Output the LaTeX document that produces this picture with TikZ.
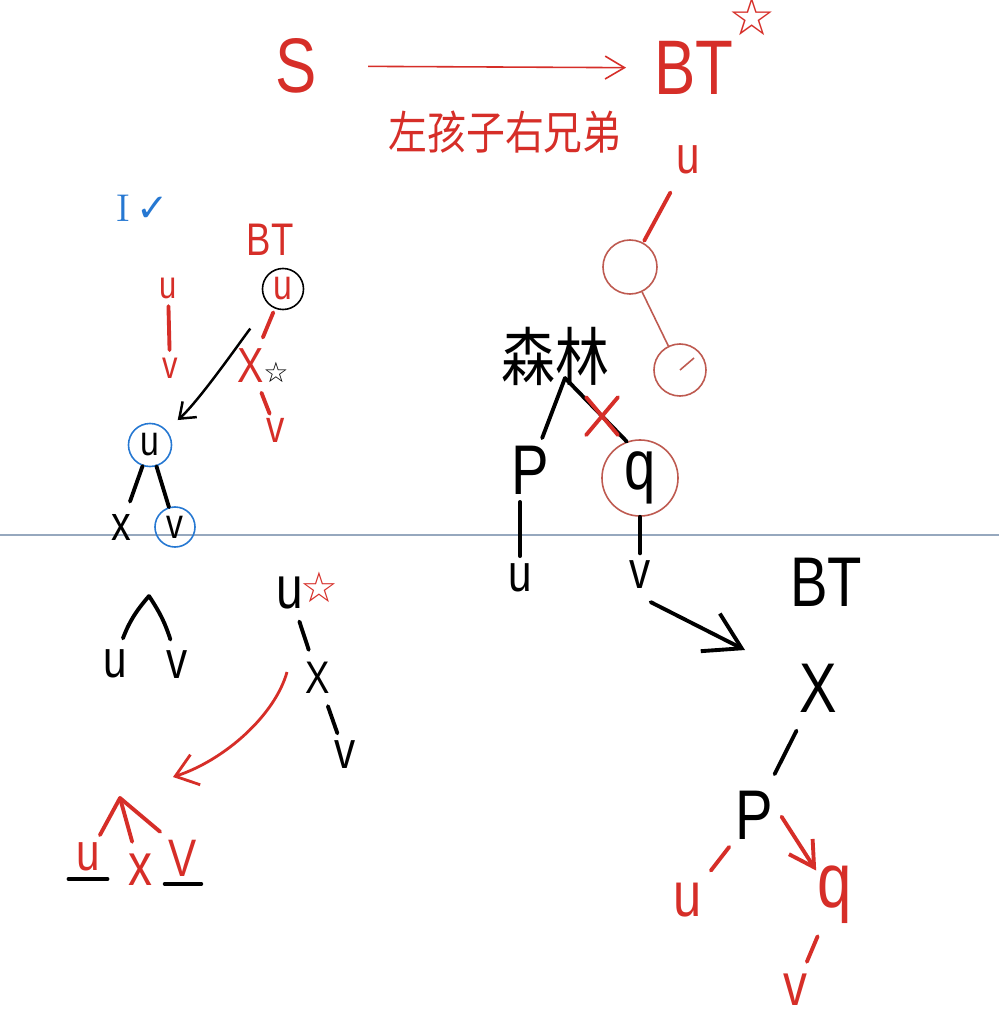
\documentclass[tikz,border=0pt]{standalone}
\usepackage{fontspec}
\newfontfamily\hand[FakeStretch=0.8]{Liberation Sans}
\newfontfamily\cjk[FakeStretch=0.85]{Noto Sans CJK SC}
\newfontfamily\symb{DejaVu Sans}
\usetikzlibrary{arrows.meta,positioning,shapes.misc}
\definecolor{inkred}{RGB}{214,46,40}
\definecolor{inkblue}{RGB}{38,120,210}
\definecolor{penred}{RGB}{190,90,80}
\definecolor{rulegray}{RGB}{150,168,190}
\newcommand{\hs}[1]{\hand\fontsize{#1}{#1}\selectfont}

\begin{document}
\begin{tikzpicture}[x=0.01cm, y=-0.01cm]
    \tikzstyle{letter} = [inner sep=2pt, font=\hs{15}]
    \tikzstyle{small} = [inner sep=2pt, font=\hs{11}]
    \tikzstyle{large} = [inner sep=2pt, font=\hs{20}]
    \tikzstyle{redink} = [text=inkred]
    \tikzstyle{ring} = [circle, draw, line width=0.45pt, inner sep=0pt]
    \tikzstyle{pen} = [line width=1.1pt, line cap=round]
    \tikzstyle{thin} = [line width=0.45pt]
    \tikzstyle{cut} = [cross out, draw=inkred, line width=1.1pt, minimum width=0.28cm, minimum height=0.34cm, inner sep=0pt]

    \useasboundingbox (0,0) rectangle (999,1024);
    \fill [white] (0,0) rectangle (999,1024);
    \draw [rulegray, line width=0.5pt] (0,535) -- (999,535);

    % top: S -> BT
    \node (S) [redink, font=\hs{22}] at (296,66) {S};
    \node (BTtop) [redink, font=\hs{22}] at (694,68) {BT};
    \node (rule) [redink, font=\cjk\fontsize{13}{13}\selectfont] at (505,132) {左孩子右兄弟};
    \node (topstar) [redink, font=\symb\fontsize{15}{15}\selectfont] at (752,17) {☆};
    \draw [thin, inkred, -{Straight Barb[length=5.5pt,width=6.5pt]}, shorten <=0.39cm, shorten >=0.16cm] (S) -- (BTtop);

    \node (uTop) [redink, letter] at (688,160) {u};
    \node (c1) [ring, draw=penred, minimum size=0.54cm] at (630,267) {};
    \node (c2) [ring, draw=penred, minimum size=0.52cm] at (680,370) {};
    \draw [pen, inkred, shorten <=0.12cm, shorten >=0.02cm] (uTop) -- (c1);
    \draw [thin, penred] (c1) -- (c2);
    \draw [thin, penred] (c2.center) -- ++(14,-12);

    % forest
    \node (forest) [font=\cjk\fontsize{18}{18}\selectfont] at (555,356) {森林};
    \coordinate (fork) at (565,378);
    \node (p1) [large] at (530,470) {P};
    \node (q1) [ring, draw=penred, minimum size=0.76cm, font=\hs{20}] at (640,478) {q};
    \node (u1) [letter] at (520,578) {u};
    \node (v1) [letter] at (640,575) {v};
    \draw [pen] (fork) -- (p1);
    \draw [pen] (fork) -- node [cut, pos=0.6] {} (q1.110);
    \draw [pen] (u1 |- p1.south) -- (u1);
    \draw [pen] (q1) -- (v1);
    \coordinate (toBT) at (745,650);
    \draw [pen, -{Straight Barb[length=10pt,width=12pt]}, shorten <=0.12cm] (v1.south) -- (toBT);

    % binary tree of the forest
    \node (BT2) [large] at (826,582) {BT};
    \node (x2) [large] at (818,688) {X};
    \node (p2) [large] at (754,815) {P};
    \node (u2) [redink, font=\hs{18}] at (688,900) {u};
    \node (q2) [redink, font=\hs{22}] at (835,895) {q};
    \node (v2) [redink, font=\hs{17}] at (795,990) {v};
    \draw [pen, shorten <=0.12cm, shorten >=0.1cm] (x2) -- (p2);
    \draw [pen, inkred] (p2) -- (u2);
    \draw [pen, inkred, -{Straight Barb[length=7pt,width=8pt]}, shorten <=0.02cm, shorten >=-0.2cm] (p2.east) -- (q2.north west);
    \draw [pen, inkred] (q2) -- (v2);

    % left: u, x, v
    \node (check) [text=inkblue, font=\fontsize{11}{11}\selectfont] at (143,208) {I\,{\symb ✓}};
    \node (BT3) [redink, font=\hs{13}] at (270,240) {BT};
    \node (u3) [ring, minimum size=0.41cm, redink, font=\hs{12}] at (283,289) {u};
    \node (x3) [redink, font=\hs{14}, inner sep=1pt] at (251,366) {X};
    \node (star3) [font=\symb\fontsize{8}{8}\selectfont] at (276,372) {☆};
    \node (v3) [redink, font=\hs{13}, inner sep=1pt] at (276,430) {v};
    \node (u4) [redink, small] at (168,288) {u};
    \node (v4) [redink, small] at (170,368) {v};
    \draw [pen, inkred, shorten <=0.04cm, shorten >=0.08cm] (u3) -- (x3);
    \draw [pen, inkred, shorten <=0.06cm] (x3) -- (v3);
    \draw [pen, inkred] (u4) -- (v4);

    \node (u5) [ring, draw=inkblue, minimum size=0.43cm, font=\hs{12}] at (150,445) {u};
    \node (x5) [font=\hs{14}] at (121,527) {x};
    \node (v5) [ring, draw=inkblue, minimum size=0.4cm, font=\hs{12}] at (175,527) {v};
    \draw [pen] (u5) -- (x5);
    \draw [pen] (u5) -- (v5);
    \draw [line width=0.7pt, -{Straight Barb[length=4pt,width=6pt]}, shorten <=0.3cm, shorten >=0.15cm] (u3) .. controls (245,335) and (200,400) .. (u5);

    % lower left
    \coordinate (apex) at (149,596);
    \node (u6) [letter] at (115,664) {u};
    \node (v6) [letter] at (177,665) {v};
    \draw [pen, shorten >=0.04cm] (apex) to [bend right=10] (u6);
    \draw [pen, shorten >=0.04cm] (apex) to [bend left=8] (v6);

    \node (u7) [font=\hs{17}] at (290,593) {u};
    \node (star7) [redink, font=\symb\fontsize{12}{12}\selectfont] at (319,587) {☆};
    \node (x7) [font=\hs{13}] at (318,678) {X};
    \node (v7) [letter] at (345,755) {v};
    \draw [pen] (u7) -- (x7);
    \draw [pen] (x7) -- (v7);
    \coordinate (tail7) at (287,672);
    \coordinate (head7) at (173,777);
    \draw [line width=0.8pt, inkred, -{Straight Barb[length=6pt,width=9pt]}] (tail7) .. controls (275,715) and (225,760) .. (head7);

    \coordinate (rootR) at (120,798);
    \node (u8) [redink, letter] at (88,857) {u};
    \node (x8) [redink, font=\hs{17}] at (140,870) {x};
    \node (v8) [redink, font=\hs{15}, inner sep=1pt] at (183,858) {V};
    \draw [pen, inkred] (rootR) -- (u8);
    \draw [pen, inkred] (rootR) -- (x8);
    \draw [pen, inkred, shorten >=0.06cm] (rootR) -- (v8.north west);
    \draw [pen] (u8.south west) -- (u8.south east);
    \draw [pen] ([yshift=-1pt]v8.south west) -- ([yshift=-1pt]v8.south east);
\end{tikzpicture}
\end{document}
